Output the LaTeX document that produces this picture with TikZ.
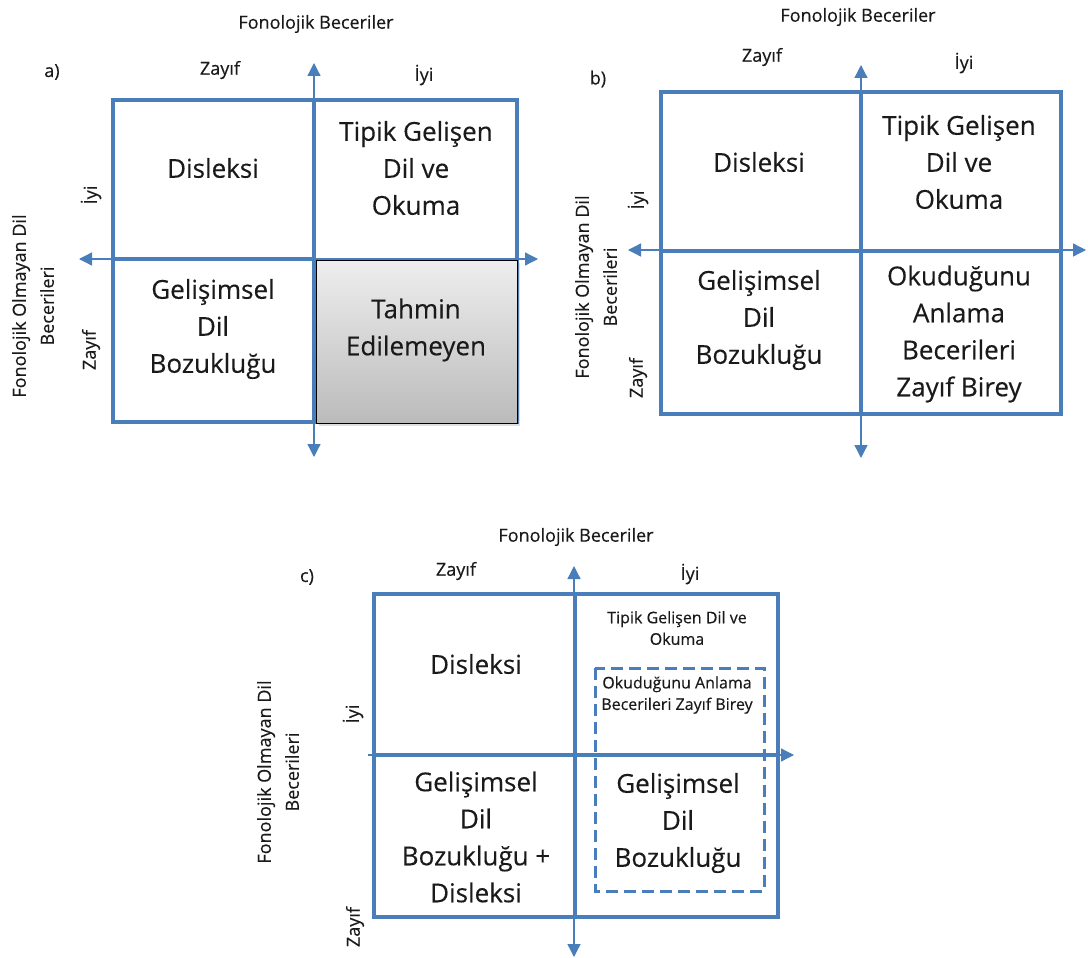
\documentclass[tikz,border=0pt]{standalone}
\usepackage{fontspec}
\setmainfont{Open Sans}[FakeBold=0.3]
\usetikzlibrary{arrows.meta, shadows}
\definecolor{quadblue}{HTML}{4A7EBB}
\definecolor{darktext}{HTML}{1A1A1A}
\definecolor{graytop}{HTML}{EEEEEE}
\definecolor{graybot}{HTML}{BBBBBB}
\tikzset{
  frame/.style={draw=quadblue, line width=4pt},
  axis/.style={draw=quadblue, line width=1.3pt},
  twoway/.style={axis, {Triangle[length=13pt,width=13pt]}-{Triangle[length=13pt,width=13pt]}},
  oneway/.style={axis, -{Triangle[length=13pt,width=13pt]}},
  cell/.style={font=\fontsize{26}{37}\selectfont, text=darktext, align=center, inner sep=0pt},
  smallcell/.style={font=\fontsize{16}{21.5}\selectfont, text=darktext, align=center, inner sep=0pt},
  lbl/.style={font=\fontsize{18}{28}\selectfont, text=darktext, align=center, inner sep=0pt},
}
\begin{document}
\begin{tikzpicture}[x=1pt, y=-1pt]
  \useasboundingbox[fill=white] (0,0) rectangle (1088,958);

  % ---------------- Panel a ----------------
  \draw[frame] (113,100) rectangle (517,422);
  \draw[frame] (314,100) -- (314,422);
  \draw[frame] (113,259) -- (314,259);
  % unpredictable quadrant
  \fill[top color=graytop, bottom color=graybot, draw=black, line width=0.8pt,
        drop shadow={shadow xshift=3pt, shadow yshift=-3pt, opacity=0.25}]
    (316,260) rectangle (517,423);
  \coordinate (aN) at (314,63);
  \coordinate (aS) at (314,457);
  \coordinate (aW) at (79,259);
  \coordinate (aE) at (538,259);
  \draw[twoway] (aS) -- (aN);
  \draw[twoway] (aW) -- (aE);
  \node[lbl] (aTitle) at (316,24) {Fonolojik Beceriler};
  \node[lbl] (aTag) at (52,72) {a)};
  \node[lbl] (aWeakX) at (220,70) {Zayıf};
  \node[lbl] (aGoodX) at (424,75) {İyi};
  \node[lbl, rotate=90] (aGoodY) at (91,195) {İyi};
  \node[lbl, rotate=90] (aWeakY) at (91,350) {Zayıf};
  \node[lbl, rotate=90] (aSide) at (33,306) {Fonolojik Olmayan Dil\\Becerileri};
  \node[cell] (aDys) at (213,168) {Disleksi};
  \node[cell] (aTyp) at (416,168) {Tipik Gelişen\\Dil ve\\Okuma};
  \node[cell] (aDld) at (213,329) {Gelişimsel\\Dil\\Bozukluğu};
  \node[cell] (aUnp) at (416,330) {Tahmin\\Edilemeyen};

  % ---------------- Panel b ----------------
  \draw[frame] (661,92) rectangle (1061,414);
  \draw[frame] (861,92) -- (861,414);
  \draw[frame] (661,251) -- (1061,251);
  \coordinate (bN) at (861,65);
  \coordinate (bS) at (861,458);
  \coordinate (bW) at (628,250);
  \coordinate (bE) at (1086,250);
  \draw[twoway] (bS) -- (bN);
  \draw[twoway] (bW) -- (bE);
  \node[lbl] (bTitle) at (858,17) {Fonolojik Beceriler};
  \node[lbl] (bTag) at (598,79) {b)};
  \node[lbl] (bWeakX) at (762,57) {Zayıf};
  \node[lbl] (bGoodX) at (964,63) {İyi};
  \node[lbl, rotate=90] (bGoodY) at (638,200) {İyi};
  \node[lbl, rotate=90] (bWeakY) at (638,378) {Zayıf};
  \node[lbl, rotate=90] (bSide) at (596,287) {Fonolojik Olmayan Dil\\Becerileri};
  \node[cell] (bDys) at (759,162) {Disleksi};
  \node[cell] (bTyp) at (959,162) {Tipik Gelişen\\Dil ve\\Okuma};
  \node[cell] (bDld) at (759,320) {Gelişimsel\\Dil\\Bozukluğu};
  \node[cell] (bRc) at (959,334) {Okuduğunu\\Anlama\\Becerileri\\Zayıf Birey};

  % ---------------- Panel c ----------------
  \draw[frame] (374,594) rectangle (778,917);
  \draw[frame] (575,594) -- (575,917);
  \draw[frame] (374,755) -- (778,755);
  % poor comprehenders inside the typical quadrant
  \draw[draw=quadblue, line width=3pt, dash pattern=on 12pt off 6pt]
    (595,668) rectangle (764,891);
  \coordinate (cN) at (574,566);
  \coordinate (cS) at (574,957);
  \coordinate (cW) at (368,755);
  \coordinate (cE) at (794,755);
  \draw[twoway] (cS) -- (cN);
  \draw[oneway] (cW) -- (cE);
  \node[lbl] (cTitle) at (576,537) {Fonolojik Beceriler};
  \node[lbl] (cTag) at (307,577) {c)};
  \node[lbl] (cWeakX) at (456,571) {Zayıf};
  \node[lbl] (cGoodX) at (690,574) {İyi};
  \node[lbl, rotate=90] (cGoodY) at (353,714) {İyi};
  \node[lbl, rotate=90] (cWeakY) at (355,927) {Zayıf};
  \node[lbl, rotate=90] (cSide) at (278,772) {Fonolojik Olmayan Dil\\Becerileri};
  \node[cell] (cDys) at (476,664) {Disleksi};
  \node[cell] (cMix) at (476,837) {Gelişimsel\\Dil\\Bozukluğu +\\Disleksi};
  \node[smallcell] (cTyp) at (677,628) {Tipik Gelişen Dil ve\\Okuma};
  \node[smallcell] (cRc) at (677,695) {Okuduğunu Anlama\\Becerileri Zayıf Birey};
  \node[cell] (cDld) at (678,823) {Gelişimsel\\Dil\\Bozukluğu};
\end{tikzpicture}
\end{document}
